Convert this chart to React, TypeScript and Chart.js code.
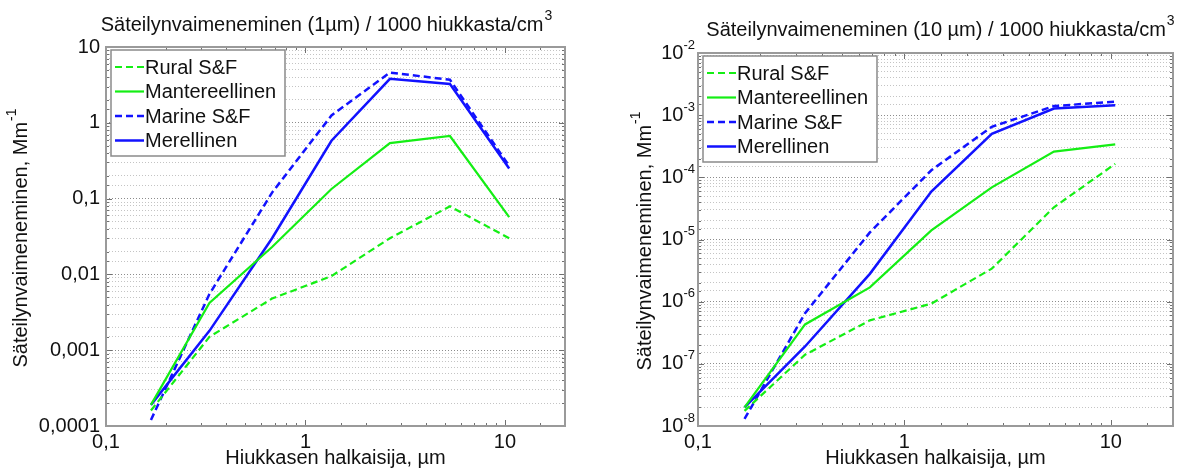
import React, { useEffect, useRef } from 'react';
import { Chart, registerables } from 'chart.js';

Chart.register(...registerables);

const FONT = '"Liberation Sans", Arial, sans-serif';

// Particle diameters (µm)
const diameters = [0.168, 0.33, 0.68, 1.35, 2.65, 5.3, 10.5];

// Extinction at 1 µm per 1000 particles/cm3 (Mm^-1)
const ruralSF_1um = [1.6e-4, 0.0015, 0.0048, 0.0095, 0.03, 0.079, 0.03];
const mantereellinen_1um = [1.9e-4, 0.0042, 0.023, 0.134, 0.54, 0.67, 0.057];
const marineSF_1um = [1.2e-4, 0.0055, 0.12, 1.25, 4.6, 3.7, 0.27];
const merellinen_1um = [1.9e-4, 0.0018, 0.03, 0.58, 3.8, 3.25, 0.25];

// Extinction at 10 µm per 1000 particles/cm3 (Mm^-1)
const ruralSF_10um = [1.75e-8, 1.4e-7, 5.0e-7, 9.3e-7, 3.4e-6, 3.3e-5, 1.65e-4];
const mantereellinen_10um = [2.0e-8, 4.3e-7, 1.7e-6, 1.4e-5, 6.9e-5, 2.6e-4, 3.4e-4];
const marineSF_10um = [1.3e-8, 6.5e-7, 1.3e-5, 1.3e-4, 6.5e-4, 1.4e-3, 1.65e-3];
const merellinen_10um = [2.0e-8, 1.9e-7, 2.8e-6, 5.9e-5, 5.0e-4, 1.28e-3, 1.45e-3];

const seriesLabels = ['Rural S&F', 'Mantereellinen', 'Marine S&F', 'Merellinen'];

const xTickValues = [0.1, 1, 10];
const xTickLabels = ['0,1', '1', '10'];

const yTickValues1 = [1e-4, 1e-3, 1e-2, 0.1, 1, 10];
const yTickLabels1 = ['0,0001', '0,001', '0,01', '0,1', '1', '10'];

const yTickValues10 = [1e-8, 1e-7, 1e-6, 1e-5, 1e-4, 1e-3, 1e-2];
const yTickExponents10 = ['-8', '-7', '-6', '-5', '-4', '-3', '-2'];

const title1 = 'Säteilynvaimeneminen (1µm) / 1000 hiukkasta/cm';
const title10 = 'Säteilynvaimeneminen (10 µm) / 1000 hiukkasta/cm';
const titleSup = '3';
const yTitle = 'Säteilynvaimeneminen, Mm';
const yTitleSup = '-1';
const xTitle = 'Hiukkasen halkaisija, µm';

const GREEN = '#14ee14';
const BLUE = '#1212ff';

const isDecade = (v: number) => Math.abs(Math.log10(v) - Math.round(Math.log10(v))) < 1e-6;

function findLabel(values: number[], labels: string[], v: number) {
  for (let i = 0; i < values.length; i++) {
    if (Math.abs(Math.log10(values[i]) - Math.log10(v)) < 1e-6) return labels[i];
  }
  return '';
}

function drawSup(ctx: CanvasRenderingContext2D, main: string, sup: string, cx: number, cy: number, size: number) {
  ctx.font = `${size}px ${FONT}`;
  const w1 = ctx.measureText(main).width;
  const supSize = Math.round(size * 0.68);
  ctx.font = `${supSize}px ${FONT}`;
  const w2 = ctx.measureText(sup).width;
  const x0 = cx - (w1 + w2) / 2;
  ctx.textAlign = 'left';
  ctx.textBaseline = 'middle';
  ctx.font = `${size}px ${FONT}`;
  ctx.fillText(main, x0, cy);
  ctx.font = `${supSize}px ${FONT}`;
  ctx.fillText(sup, x0 + w1 + 1, cy - size * 0.42);
}

type Cfg = {
  series: number[][];
  yMin: number;
  yMax: number;
  yTickValues: number[];
  yTickLabels?: string[];
  yExponents?: string[];
  padTop: number;
  padRight: number;
  title: string;
  titleCx: number;
  titleCy: number;
  yTitleX: number;
};

function buildChart(canvas: HTMLCanvasElement, cfg: Cfg) {
  const styles = [
    { color: GREEN, dash: [7, 4], width: 2.2 },
    { color: GREEN, dash: [], width: 2.2 },
    { color: BLUE, dash: [7, 4], width: 2.5 },
    { color: BLUE, dash: [], width: 2.5 },
  ];
  const datasets = cfg.series.map((vals, i) => ({
    label: seriesLabels[i],
    data: vals.map((v, j) => ({ x: diameters[j], y: v })),
    borderColor: styles[i].color,
    borderDash: styles[i].dash,
    borderWidth: styles[i].width,
    pointRadius: 0,
    tension: 0,
    fill: false,
  }));

  const decor = {
    id: 'decor',
    afterDatasetsDraw(chart: any) {
      const { ctx, chartArea: a, scales } = chart;
      ctx.save();
      // inward tick marks
      ctx.strokeStyle = '#707070';
      ctx.lineWidth = 1;
      ctx.setLineDash([]);
      for (const t of scales.x.ticks) {
        const px = Math.round(scales.x.getPixelForValue(t.value)) + 0.5;
        if (px < a.left || px > a.right) continue;
        const len = isDecade(t.value) ? 6 : 3;
        ctx.beginPath();
        ctx.moveTo(px, a.bottom);
        ctx.lineTo(px, a.bottom - len);
        ctx.moveTo(px, a.top);
        ctx.lineTo(px, a.top + len);
        ctx.stroke();
      }
      for (const t of scales.y.ticks) {
        const py = Math.round(scales.y.getPixelForValue(t.value)) + 0.5;
        const len = isDecade(t.value) ? 6 : 3;
        ctx.beginPath();
        ctx.moveTo(a.left, py);
        ctx.lineTo(a.left + len, py);
        ctx.moveTo(a.right, py);
        ctx.lineTo(a.right - len, py);
        ctx.stroke();
      }
      // frame
      ctx.strokeStyle = '#9a9a9a';
      ctx.lineWidth = 2;
      ctx.strokeRect(a.left, a.top, a.right - a.left, a.bottom - a.top);

      // legend
      const lx = a.left + 5, ly = a.top + 3, lw = 174, lh = 106;
      ctx.fillStyle = '#ffffff';
      ctx.fillRect(lx, ly, lw, lh);
      ctx.strokeStyle = '#8a8a8a';
      ctx.lineWidth = 1.5;
      ctx.strokeRect(lx, ly, lw, lh);
      chart.data.datasets.forEach((ds: any, i: number) => {
        const y = ly + 17 + i * 24.5;
        ctx.strokeStyle = ds.borderColor;
        ctx.lineWidth = ds.borderWidth;
        ctx.setLineDash(ds.borderDash || []);
        ctx.beginPath();
        ctx.moveTo(lx + 4, y);
        ctx.lineTo(lx + 33, y);
        ctx.stroke();
        ctx.setLineDash([]);
        ctx.fillStyle = '#111';
        ctx.font = `20px ${FONT}`;
        ctx.textAlign = 'left';
        ctx.textBaseline = 'middle';
        ctx.fillText(ds.label, lx + 34, y + 1);
      });

      // exponent tick labels
      if (cfg.yExponents) {
        cfg.yTickValues.forEach((v, i) => {
          const py = scales.y.getPixelForValue(v);
          ctx.font = `13px ${FONT}`;
          const ew = ctx.measureText(cfg.yExponents![i]).width;
          ctx.fillStyle = '#111';
          ctx.textBaseline = 'middle';
          ctx.textAlign = 'right';
          ctx.font = `20px ${FONT}`;
          ctx.fillText('10', a.left - 3 - ew, py);
          ctx.textAlign = 'left';
          ctx.font = `13px ${FONT}`;
          ctx.fillText(cfg.yExponents![i], a.left - 3 - ew, py - 8);
        });
      }

      // title
      ctx.fillStyle = '#111';
      drawSup(ctx, cfg.title, titleSup, cfg.titleCx, cfg.titleCy, 20);

      // y title
      ctx.save();
      ctx.translate(cfg.yTitleX, (a.top + a.bottom) / 2 + 2);
      ctx.rotate(-Math.PI / 2);
      drawSup(ctx, yTitle, yTitleSup, 0, 0, 20);
      ctx.restore();

      ctx.restore();
    },
  };

  return new Chart(canvas, {
    type: 'line',
    data: { datasets },
    options: {
      animation: false,
      responsive: false,
      layout: { padding: { left: 0, right: cfg.padRight, top: cfg.padTop, bottom: 0 } },
      plugins: { legend: { display: false }, tooltip: { enabled: false }, title: { display: false } },
      scales: {
        x: {
          type: 'logarithmic',
          min: 0.1,
          max: 20,
          position: 'bottom',
          grid: { display: false, drawTicks: false },
          border: { display: false },
          afterFit: (s: any) => { s.height = 50; },
          ticks: {
            autoSkip: false,
            maxRotation: 0,
            minRotation: 0,
            padding: 4,
            color: '#111',
            font: { size: 20, family: FONT },
            callback: (v: any) => findLabel(xTickValues, xTickLabels, Number(v)),
          },
          title: {
            display: true,
            text: xTitle,
            color: '#111',
            font: { size: 20, family: FONT },
            padding: { top: 0, bottom: 6 },
          },
        },
        y: {
          type: 'logarithmic',
          min: cfg.yMin,
          max: cfg.yMax,
          position: 'left',
          afterFit: (s: any) => { s.width = 106; },
          grid: {
            display: true,
            drawTicks: false,
            lineWidth: 1,
            color: (c: any) => (c.tick && isDecade(c.tick.value) ? '#8c8c8c' : '#c4c4c4'),
          },
          border: { display: false, dash: [1, 2] },
          ticks: {
            autoSkip: false,
            padding: 6,
            color: '#111',
            font: { size: 20, family: FONT },
            callback: (v: any) =>
              cfg.yTickLabels ? findLabel(cfg.yTickValues, cfg.yTickLabels, Number(v)) : '',
          },
        },
      },
    },
    plugins: [decor],
  } as any);
}

export default function App() {
  const ref1 = useRef<HTMLCanvasElement>(null);
  const ref2 = useRef<HTMLCanvasElement>(null);

  useEffect(() => {
    const c1 = buildChart(ref1.current!, {
      series: [ruralSF_1um, mantereellinen_1um, marineSF_1um, merellinen_1um],
      yMin: 1e-4,
      yMax: 10,
      yTickValues: yTickValues1,
      yTickLabels: yTickLabels1,
      padTop: 47,
      padRight: 27,
      title: title1,
      titleCx: 326,
      titleCy: 25,
      yTitleX: 21,
    });
    const c2 = buildChart(ref2.current!, {
      series: [ruralSF_10um, mantereellinen_10um, marineSF_10um, merellinen_10um],
      yMin: 1e-8,
      yMax: 1e-2,
      yTickValues: yTickValues10,
      yExponents: yTickExponents10,
      padTop: 53,
      padRight: 11,
      title: title10,
      titleCx: 348,
      titleCy: 30,
      yTitleX: 53,
    });
    return () => {
      c1.destroy();
      c2.destroy();
    };
  }, []);

  return (
    <div style={{ position: 'fixed', left: 0, top: 0, width: 1184, height: 476, background: '#fff', display: 'flex' }}>
      <canvas ref={ref1} width={592} height={476} style={{ display: 'block', width: 592, height: 476 }} />
      <canvas ref={ref2} width={592} height={476} style={{ display: 'block', width: 592, height: 476 }} />
    </div>
  );
}
